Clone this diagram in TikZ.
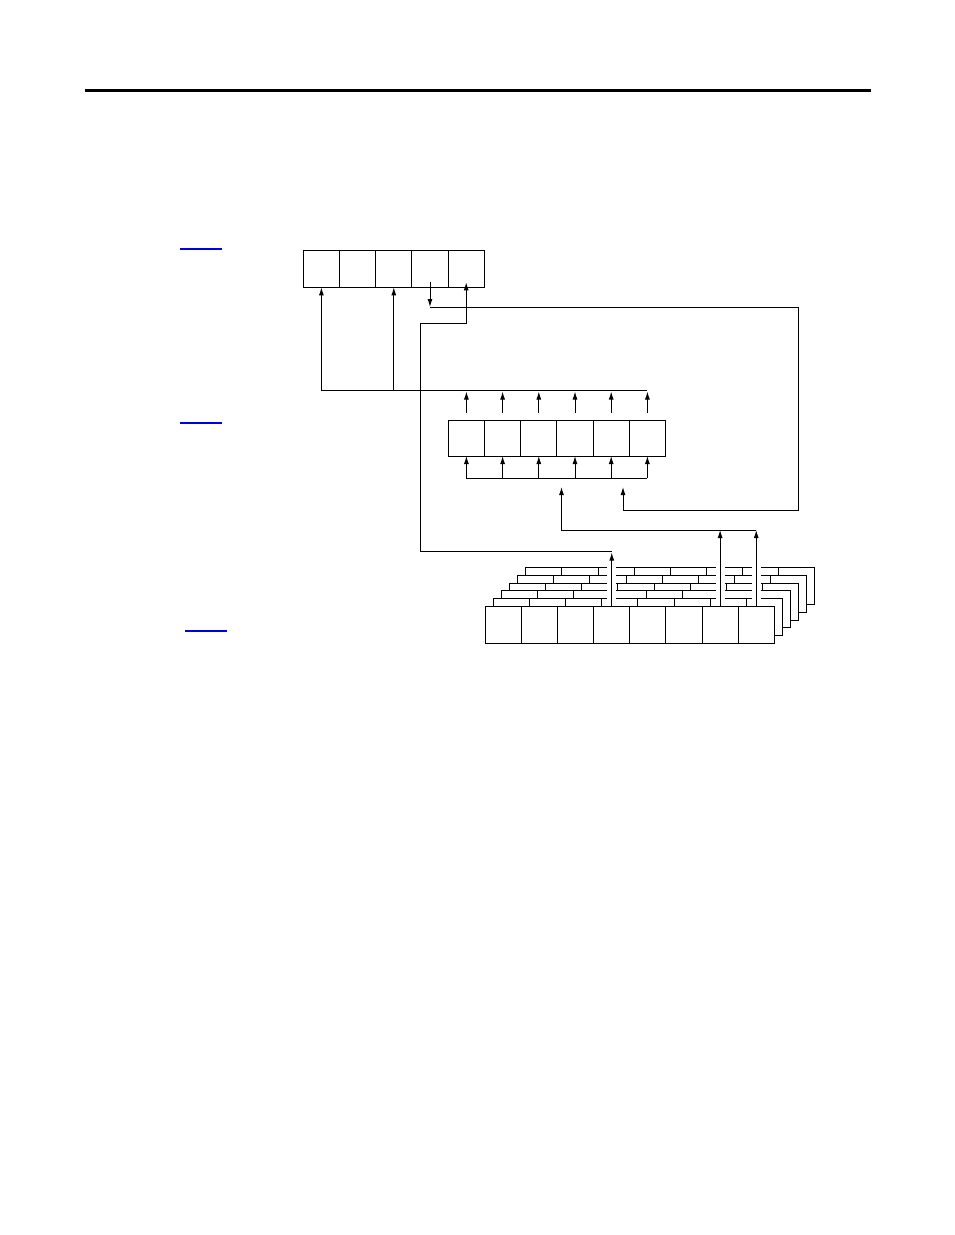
\documentclass[tikz,border=0pt]{standalone}
\usetikzlibrary{arrows.meta,calc}
\pgfdeclarelayer{bg}
\pgfsetlayers{bg,main}
\definecolor{linkblue}{RGB}{0,0,225}
\tikzset{
  cell/.style={draw,fill=white,line width=1pt,inner sep=0pt,outer sep=0pt,minimum width=36.2pt,minimum height=36.6pt},
  bcell/.style={cell,minimum width=36.125pt,minimum height=37pt},
  wire/.style={line width=1pt},
  arr/.style={wire,-{Latex[length=8pt,width=5pt]}},
  uline/.style={linkblue,line width=1.2pt},
  halo/.style={white,line width=9pt}
}
\begin{document}
\begin{tikzpicture}[x=1pt,y=-1pt]
\useasboundingbox (0,0) rectangle (954,1235);
% top rule
\draw[line width=3pt] (85,90.5) coordinate (r1) -- (871,90.5) coordinate (r2);
% blue underlines
\draw[uline] (180,249) coordinate (u1a) -- (222,249) coordinate (u1b);
\draw[uline] (180,423) coordinate (u2a) -- (222,423) coordinate (u2b);
\draw[uline] (185,631) coordinate (u3a) -- (227,631) coordinate (u3b);
% top register
\foreach \i in {1,...,5}
  \node[cell] (t\i) at ({303.3+36.2*(\i-0.5)},269) {};
% middle register
\foreach \i in {1,...,6}
  \node[cell,minimum height=36pt] (m\i) at ({448.3+36.2*(\i-0.5)},438) {};
% front bottom register
\foreach \i in {1,...,8}
  \node[bcell] (b\i) at ({485.3+36.125*(\i-0.5)},624.8) {};
% stacked back layers
\begin{pgfonlayer}{bg}
\foreach \k in {5,4,3,2,1}{
  \begin{scope}[shift={({8.1*\k},{-7.75*\k})}]
    \draw[line width=1pt,fill=white] (485.3,606.3) rectangle (774.3,643.3);
    \foreach \i in {1,...,7}
      \draw[line width=1pt] ({485.3+36.125*\i},606.3) -- ++(0,37);
  \end{scope}
}
\foreach \n in {b4,b7,b8}
  \draw[halo] (\n.north |- 0,562) -- (\n.north |- 0,605);
\end{pgfonlayer}
% coordinates of buses
\coordinate (hA) at (0,390);
\coordinate (hB) at (0,478);
\coordinate (hC) at (0,530);
\coordinate (hD) at (0,551);
\coordinate (hE) at (0,307);
\coordinate (hF) at (0,323);
\coordinate (xL) at (420.5,0);
\coordinate (xR) at (798,0);
\coordinate (xM1) at (561.5,0);
\coordinate (xM2) at (623,0);
% bus above middle register to top register
\draw[wire] (t1 |- hA) -- (m6 |- hA);
\draw[arr] (t1 |- hA) -- (t1.south);
\draw[arr] (t3 |- hA) -- (t3.south);
\foreach \i in {1,...,6}
  \draw[arr] ([yshift=7pt]m\i.north) -- ([yshift=-1.5pt]m\i |- hA);
% bus below middle register
\draw[wire] (m1 |- hB) -- (m6 |- hB);
\foreach \i in {1,...,6}
  \draw[arr] (m\i |- hB) -- (m\i.south);
% loop from top cell 4
\draw[arr] ([yshift=5pt]t4.south) -- (t4 |- hE);
\draw[arr] (t4 |- hE) -- (xR |- hE) -- (xR |- 0,510) -- (xM2 |- 0,510) -- (xM2 |- 0,487);
% from bottom register to top cell 5
\draw[arr] (b4.north) -- ([yshift=-1.5pt]b4 |- hD);
\draw[arr] (b4 |- hD) -- (xL |- hD) -- (xL |- hF) -- (t5 |- hF) -- ([yshift=5pt]t5.south);
% from bottom register to middle bus
\draw[arr] (b7.north) -- (b7 |- hC);
\draw[arr] (b8.north) -- (b8 |- hC);
\draw[arr] (b8 |- hC) -- (xM1 |- hC) -- (xM1 |- 0,487);
\end{tikzpicture}
\end{document}
